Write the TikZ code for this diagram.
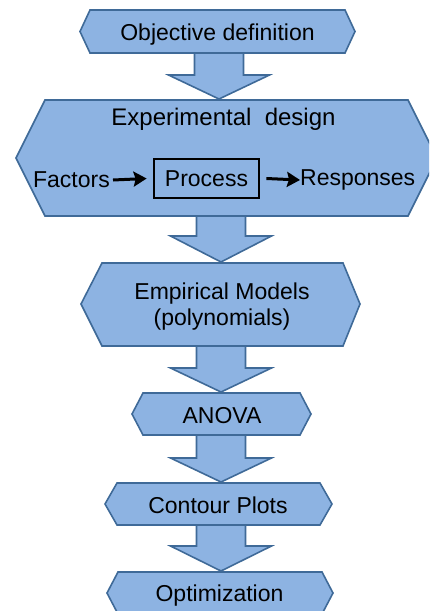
\documentclass[tikz,border=0pt]{standalone}
\usepackage{fontspec}
\setmainfont{Liberation Sans}
\usetikzlibrary{arrows.meta}
\definecolor{hexfill}{HTML}{8DB3E2}
\definecolor{hexline}{HTML}{3F6A98}
\newcommand\hexagonshape[7]{%
  \filldraw[shapestyle] (#1,#7) -- (#2,#5) -- (#3,#5) -- (#4,#7) -- (#3,#6) -- (#2,#6) -- cycle;}
\newcommand\blockarrowshape[4]{%
  \filldraw[shapestyle] (#1-24.5,#2) -- (#1+24.5,#2) -- (#1+24.5,#3) -- (#1+50.5,#3) -- (#1,#4) -- (#1-50.5,#3) -- (#1-24.5,#3) -- cycle;}
\begin{document}
\begin{tikzpicture}[x=1pt,y=-1pt,
  shapestyle/.style={fill=hexfill,draw=hexline,line width=1.6pt,line join=miter},
  lbl/.style={font=\fontsize{23}{26}\selectfont,text=black,inner sep=0pt,align=center},
  flowarrow/.style={line width=3pt,-{Stealth[length=13pt,width=15pt,inset=2pt]}},
]
\useasboundingbox (0,0) rectangle (429,611);
\clip (0,0) rectangle (429,611);
% block arrows
\blockarrowshape{219}{50}{75}{99}
\blockarrowshape{221}{214}{236}{262}
\blockarrowshape{221}{344}{368}{392}
\blockarrowshape{221}{433}{458}{482}
\blockarrowshape{221}{523}{546}{571}
% hexagons
\hexagonshape{80}{90}{345}{355}{10}{53}{31.5}
\hexagonshape{16}{45}{408}{437}{100}{216}{158}
\hexagonshape{81}{102}{343}{360}{263}{346}{304}
\hexagonshape{132}{143}{300}{311}{393}{435}{414}
\hexagonshape{105}{117}{320}{332}{483}{525}{504}
\hexagonshape{107}{118}{322}{333}{572}{614}{593}
% texts
\node[lbl] (obj) at (217.5,34.5) {Objective definition};
\node[lbl,font=\fontsize{24}{27}\selectfont] (exp) at (223.5,119) {Experimental\ \ design};
\node[lbl,anchor=east] (fac) at (110,180) {Factors};
\node[lbl,draw=black,line width=2.8pt,minimum width=105pt,minimum height=39pt] (proc) at (206.5,178.5) {Process};
\node[lbl,anchor=west] (resp) at (300,180) {Responses};
\draw[flowarrow] ([xshift=3pt]fac.east) -- ([xshift=-6pt]proc.west);
\draw[flowarrow] ([xshift=6pt]proc.east) -- (resp.west);
\node[lbl] (emp) at (222,307) {Empirical Models\\(polynomials)};
\node[lbl] (anova) at (222,416) {ANOVA};
\node[lbl] (cont) at (218,505.5) {Contour Plots};
\node[lbl] (opt) at (219.5,596) {Optimization};
\end{tikzpicture}
\end{document}
